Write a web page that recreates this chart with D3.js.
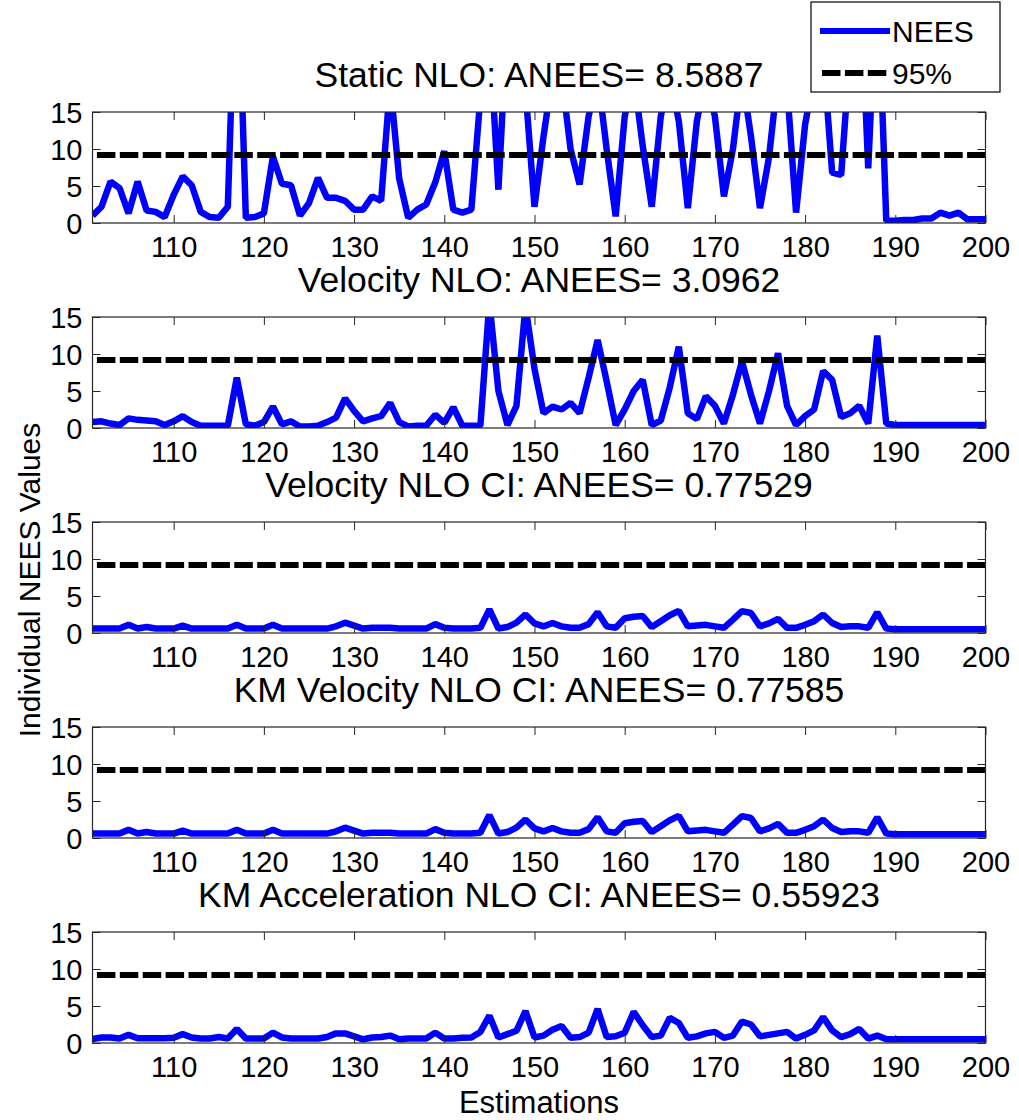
<!DOCTYPE html>
<html><head><meta charset="utf-8">
<script src="https://cdn.jsdelivr.net/npm/d3@7"></script>
<style>
body{margin:0;background:#fff}
svg text{font-family:"Liberation Sans",Arial,Helvetica,sans-serif;fill:#000}
</style>
</head><body>
<svg id="chart" width="1019" height="1120"></svg>
<script>
// ---------- data ----------
const estimations = d3.range(101, 201);

const staticNLO = [
 1.0, 2.2, 5.6, 4.7, 1.3, 5.6, 1.7, 1.5, 0.8, 3.8,
 6.3, 5.1, 1.5, 0.8, 0.7, 2.2, 40, 0.7, 0.8, 1.3,
 9.0, 5.3, 5.1, 1.0, 2.7, 6.1, 3.4, 3.4, 3.0, 1.8,
 1.8, 3.6, 3.0, 19, 6.0, 0.7, 1.8, 2.5, 5.5, 9.7,
 1.8, 1.4, 1.8, 17, 26, 4.5, 28, 20, 18, 2.2,
 11.7, 20, 20, 10, 5.2, 14.4, 20, 10, 0.9, 14.4,
 20, 10.4, 2.2, 14.4, 20, 13.75, 2.0, 13.75, 20, 14.4,
 3.6, 10, 20, 11.7, 2.0, 8.9, 20, 18.4, 1.4, 13.3,
 20, 23, 6.8, 6.5, 23.5, 36, 7.4, 35, 0.3, 0.3,
 0.4, 0.4, 0.6, 0.6, 1.4, 1.0, 1.4, 0.5, 0.5, 0.5
];

const velocityNLO = [
 0.8, 0.9, 0.6, 0.4, 1.3, 1.1, 1.0, 0.9, 0.4, 0.9,
 1.6, 0.8, 0.3, 0.3, 0.3, 0.3, 6.8, 0.5, 0.3, 0.8,
 2.9, 0.5, 0.9, 0.2, 0.2, 0.3, 0.8, 1.4, 4.0, 2.3,
 0.9, 1.3, 1.6, 3.4, 0.8, 0.2, 0.3, 0.3, 1.8, 0.7,
 2.8, 0.3, 0.3, 0.3, 17, 5.0, 0.4, 3.0, 16.5, 8.0,
 2.0, 2.9, 2.5, 3.4, 2.0, 6.8, 11.9, 6.3, 0.4, 2.5,
 5.0, 6.5, 0.4, 1.0, 5.5, 11.0, 2.0, 1.2, 4.3, 3.0,
 0.6, 4.5, 9.0, 4.5, 0.6, 5.0, 10.1, 3.0, 0.4, 1.6,
 2.5, 7.7, 6.5, 1.5, 2.0, 3.0, 0.6, 12.5, 0.6, 0.4,
 0.4, 0.4, 0.4, 0.4, 0.4, 0.4, 0.4, 0.4, 0.4, 0.4
];

const velocityNLOCI = [
 0.6, 0.6, 0.6, 0.6, 1.1, 0.6, 0.8, 0.6, 0.6, 0.6,
 1.0, 0.6, 0.6, 0.6, 0.6, 0.6, 1.1, 0.6, 0.6, 0.6,
 1.1, 0.6, 0.6, 0.6, 0.6, 0.6, 0.6, 0.9, 1.4, 1.0,
 0.6, 0.7, 0.7, 0.7, 0.6, 0.6, 0.6, 0.6, 1.2, 0.7,
 0.6, 0.6, 0.6, 0.7, 3.2, 0.6, 0.8, 1.4, 2.5, 1.3,
 0.9, 1.35, 0.9, 0.7, 0.7, 1.2, 2.8, 0.9, 0.7, 2.0,
 2.2, 2.3, 0.8, 1.6, 2.4, 3.0, 0.9, 1.0, 1.1, 0.9,
 0.7, 1.8, 2.95, 2.7, 0.9, 1.3, 1.9, 0.7, 0.7, 1.1,
 1.6, 2.5, 1.35, 0.8, 0.9, 0.9, 0.7, 2.8, 0.6, 0.5,
 0.5, 0.5, 0.5, 0.5, 0.5, 0.5, 0.5, 0.5, 0.5, 0.5
];

const kmVelocityNLOCI = [
 0.6, 0.6, 0.6, 0.6, 1.1, 0.6, 0.8, 0.6, 0.6, 0.6,
 1.0, 0.6, 0.6, 0.6, 0.6, 0.6, 1.1, 0.6, 0.6, 0.6,
 1.1, 0.6, 0.6, 0.6, 0.6, 0.6, 0.6, 0.9, 1.4, 1.0,
 0.6, 0.7, 0.7, 0.7, 0.6, 0.6, 0.6, 0.6, 1.2, 0.7,
 0.6, 0.6, 0.6, 0.7, 3.1, 0.6, 0.8, 1.4, 2.5, 1.3,
 0.9, 1.35, 0.9, 0.7, 0.7, 1.2, 2.8, 0.9, 0.7, 2.0,
 2.2, 2.3, 0.8, 1.6, 2.4, 3.0, 0.9, 1.0, 1.1, 0.9,
 0.7, 1.8, 2.95, 2.7, 0.9, 1.3, 1.9, 0.7, 0.7, 1.1,
 1.6, 2.5, 1.35, 0.8, 0.9, 0.9, 0.7, 2.8, 0.6, 0.5,
 0.5, 0.5, 0.5, 0.5, 0.5, 0.5, 0.5, 0.5, 0.5, 0.5
];

const kmAccelerationNLOCI = [
 0.55, 0.75, 0.75, 0.6, 1.1, 0.65, 0.65, 0.65, 0.65, 0.7,
 1.2, 0.75, 0.6, 0.6, 0.8, 0.6, 1.9, 0.6, 0.6, 0.6,
 1.4, 0.75, 0.6, 0.6, 0.6, 0.6, 0.8, 1.3, 1.3, 0.9,
 0.5, 0.75, 0.8, 1.0, 0.5, 0.6, 0.6, 0.6, 1.4, 0.6,
 0.6, 0.7, 0.75, 1.5, 3.7, 0.75, 1.2, 1.65, 4.3, 0.75,
 1.0, 1.8, 2.3, 0.7, 0.8, 1.4, 4.6, 0.8, 0.9, 1.4,
 4.2, 2.4, 0.8, 1.0, 3.4, 2.7, 0.7, 0.9, 1.3, 1.5,
 0.7, 1.0, 2.9, 2.5, 0.9, 1.1, 1.3, 1.5, 0.6, 1.1,
 1.7, 3.5, 1.7, 0.8, 1.2, 1.9, 0.6, 1.0, 0.5, 0.5,
 0.5, 0.5, 0.5, 0.5, 0.5, 0.5, 0.5, 0.5, 0.5, 0.5
];

const panelTitles = [
 "Static NLO: ANEES= 8.5887",
 "Velocity NLO: ANEES= 3.0962",
 "Velocity NLO CI: ANEES= 0.77529",
 "KM Velocity NLO CI: ANEES= 0.77585",
 "KM Acceleration NLO CI: ANEES= 0.55923"
];
const panelSeries = [staticNLO, velocityNLO, velocityNLOCI, kmVelocityNLOCI, kmAccelerationNLOCI];
const xTickValues = [110, 120, 130, 140, 150, 160, 170, 180, 190, 200];
const yTickValues = [0, 5, 10, 15];
const threshold95 = 9.2;
const legendLabels = ["NEES", "95%"];
const xLabel = "Estimations";
const yLabel = "Individual NEES Values";

// ---------- drawing ----------
const svg = d3.select("#chart");
const blue = "#0000ff";
const x = d3.scaleLinear().domain([101, 200]).range([92.5, 985.5]);
const panelTop0 = 112, panelStep = 205, panelH = 111;
const tickFont = 29;

panelSeries.forEach((vals, k) => {
  const top = panelTop0 + k * panelStep;
  const y = d3.scaleLinear().domain([0, 15]).range([top + panelH, top]);
  const g = svg.append("g");
  const clipId = "clip" + k;
  svg.append("clipPath").attr("id", clipId).append("rect")
    .attr("x", x.range()[0]).attr("y", top)
    .attr("width", x.range()[1] - x.range()[0]).attr("height", panelH);

  // title
  g.append("text").attr("x", (x.range()[0] + x.range()[1]) / 2).attr("y", top - 25)
    .attr("text-anchor", "middle").attr("font-size", 35.5).text(panelTitles[k]);

  // NEES line
  g.append("path").datum(vals)
    .attr("clip-path", `url(#${clipId})`)
    .attr("fill", "none").attr("stroke", blue).attr("stroke-width", 6.5)
    .attr("stroke-linejoin", "bevel")
    .attr("d", d3.line().x((d, i) => x(estimations[i])).y(d => y(d)));

  // 95% line
  g.append("line")
    .attr("clip-path", `url(#${clipId})`)
    .attr("x1", x(estimations[0])).attr("x2", x(estimations[estimations.length - 1]))
    .attr("y1", y(threshold95)).attr("y2", y(threshold95))
    .attr("stroke", "#000").attr("stroke-width", 6)
    .attr("stroke-dasharray", "18.5,4.4").attr("stroke-dashoffset", 18.5);

  // axes
  const axB = g.append("g").attr("transform", `translate(0,${top + panelH})`)
    .call(d3.axisBottom(x).tickValues(xTickValues).tickSize(-8).tickSizeOuter(0).tickPadding(13));
  const axT = g.append("g").attr("transform", `translate(0,${top})`)
    .call(d3.axisTop(x).tickValues(xTickValues).tickSize(-8).tickSizeOuter(0).tickFormat(""));
  const axL = g.append("g").attr("transform", `translate(${x.range()[0]},0)`)
    .call(d3.axisLeft(y).tickValues(yTickValues).tickSize(-8).tickSizeOuter(0).tickPadding(10));
  const axR = g.append("g").attr("transform", `translate(${x.range()[1]},0)`)
    .call(d3.axisRight(y).tickValues(yTickValues).tickSize(-8).tickSizeOuter(0).tickFormat(""));
  [axB, axT, axL, axR].forEach(a => {
    a.select(".domain").remove();
    a.selectAll(".tick line").attr("stroke", "#262626").attr("stroke-width", 1);
    a.selectAll("text").attr("font-size", tickFont).attr("font-family", null).attr("fill", "#000");
  });
  axL.selectAll("text").attr("dy", "0.36em");

  // box
  g.append("rect").attr("x", x.range()[0]).attr("y", top)
    .attr("width", x.range()[1] - x.range()[0]).attr("height", panelH)
    .attr("fill", "none").attr("stroke", "#262626").attr("stroke-width", 1.2);
});

// axis labels
svg.append("text").attr("x", (x.range()[0] + x.range()[1]) / 2).attr("y", 1113)
  .attr("text-anchor", "middle").attr("font-size", 31).text(xLabel);
svg.append("text").attr("transform", "translate(40,580) rotate(-90)")
  .attr("text-anchor", "middle").attr("font-size", 30).text(yLabel);

// legend
const lg = svg.append("g");
lg.append("rect").attr("x", 811).attr("y", 2).attr("width", 189).attr("height", 90)
  .attr("fill", "#fff").attr("stroke", "#000").attr("stroke-width", 1.2);
lg.append("line").attr("x1", 820).attr("x2", 890).attr("y1", 31).attr("y2", 31)
  .attr("stroke", blue).attr("stroke-width", 6);
lg.append("text").attr("x", 892).attr("y", 42).attr("font-size", 30).text(legendLabels[0]);
lg.append("line").attr("x1", 822).attr("x2", 890).attr("y1", 73).attr("y2", 73)
  .attr("stroke", "#000").attr("stroke-width", 6).attr("stroke-dasharray", "18.5,4.4");
lg.append("text").attr("x", 892).attr("y", 84).attr("font-size", 30).text(legendLabels[1]);
</script>
</body></html>
